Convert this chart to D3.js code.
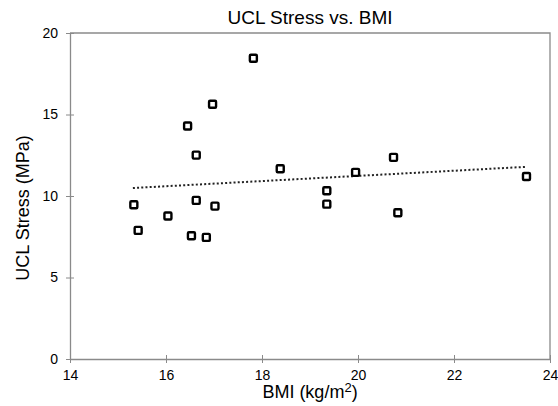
<!DOCTYPE html>
<html>
<head>
<meta charset="utf-8">
<script src="https://cdn.jsdelivr.net/npm/d3@7"></script>
<style>
  body { margin: 0; background: #fff; }
  text { font-family: "Liberation Sans", Arial, sans-serif; fill: #000; }
</style>
</head>
<body>
<div id="chart"></div>
<script>
// data
const bmi = [17.82, 16.97, 16.45, 16.63, 18.38, 15.33, 16.63, 17.02, 16.04,
             15.42, 16.53, 16.84, 20.74, 19.95, 19.35, 19.35, 20.83, 23.51];
const stress = [18.45, 15.63, 14.29, 12.51, 11.67, 9.46, 9.73, 9.38, 8.77,
                7.89, 7.56, 7.46, 12.37, 11.45, 10.32, 9.50, 8.97, 11.20];
const trendX = [15.31, 23.51];
const trendY = [10.49, 11.79];
const xTicks = [14, 16, 18, 20, 22, 24];
const yTicks = [0, 5, 10, 15, 20];

const width = 558;
const height = 406;
const margin = { top: 33, right: 8, bottom: 47, left: 70 };

const svg = d3.select("#chart")
              .append("svg")
              .attr("width", width)
              .attr("height", height);

const x = d3.scaleLinear()
            .domain([14, 24])
            .range([margin.left, width - margin.right]);

const y = d3.scaleLinear()
            .domain([0, 20])
            .range([height - margin.bottom, margin.top]);

const axisColor = "#8a8a8a";

// frame (top and right)
svg.append("path")
   .attr("d", `M${x(14)},${y(20)}H${x(24)}V${y(0)}`)
   .attr("fill", "none")
   .attr("stroke", axisColor)
   .attr("stroke-width", 1.3);

// x axis
const gx = svg.append("g")
   .attr("transform", `translate(0, ${y(0)})`)
   .call(d3.axisBottom(x).tickValues(xTicks).tickSize(0).tickPadding(11).tickFormat(d3.format("d")));
gx.select(".domain").attr("stroke", axisColor).attr("stroke-width", 1.3);
gx.selectAll(".tick").append("line")
   .attr("y1", -4).attr("y2", 4)
   .attr("stroke", axisColor);
gx.selectAll("text").attr("font-size", 14).attr("font-family", "Liberation Sans, Arial, sans-serif");

// y axis
const gy = svg.append("g")
   .attr("transform", `translate(${x(14)}, 0)`)
   .call(d3.axisLeft(y).tickValues(yTicks).tickSize(0).tickPadding(12).tickFormat(d3.format("d")));
gy.select(".domain").attr("stroke", axisColor).attr("stroke-width", 1.3);
gy.selectAll(".tick").append("line")
   .attr("x1", -4).attr("x2", 4)
   .attr("stroke", axisColor);
gy.selectAll("text").attr("font-size", 14).attr("font-family", "Liberation Sans, Arial, sans-serif");

// trend line
svg.append("line")
   .attr("x1", x(trendX[0])).attr("y1", y(trendY[0]))
   .attr("x2", x(trendX[1])).attr("y2", y(trendY[1]))
   .attr("stroke", "#222")
   .attr("stroke-width", 2)
   .attr("stroke-dasharray", "2,2.2");

// points
svg.selectAll(".pt")
   .data(bmi.map((b, i) => [b, stress[i]]))
   .enter()
   .append("rect")
   .attr("class", "pt")
   .attr("x", d => x(d[0]) - 3.5)
   .attr("y", d => y(d[1]) - 3.5)
   .attr("width", 7)
   .attr("height", 7)
   .attr("rx", 1)
   .attr("fill", "#fff")
   .attr("stroke", "#000")
   .attr("stroke-width", 2.4);

// title
svg.append("text")
   .attr("x", (x(14) + x(24)) / 2)
   .attr("y", 24)
   .attr("font-size", 19)
   .style("text-anchor", "middle")
   .text("UCL Stress vs. BMI");

// x label
const xl = svg.append("text")
   .attr("x", (x(14) + x(24)) / 2)
   .attr("y", 398)
   .attr("font-size", 18)
   .style("text-anchor", "middle");
xl.append("tspan").text("BMI (kg/m");
xl.append("tspan").attr("dy", -6).attr("font-size", 13).text("2");
xl.append("tspan").attr("dy", 6).text(")");

// y label
svg.append("text")
   .attr("transform", `translate(29, ${(y(0) + y(20)) / 2 + 12}) rotate(-90)`)
   .attr("font-size", 18)
   .style("text-anchor", "middle")
   .text("UCL Stress (MPa)");
</script>
</body>
</html>
